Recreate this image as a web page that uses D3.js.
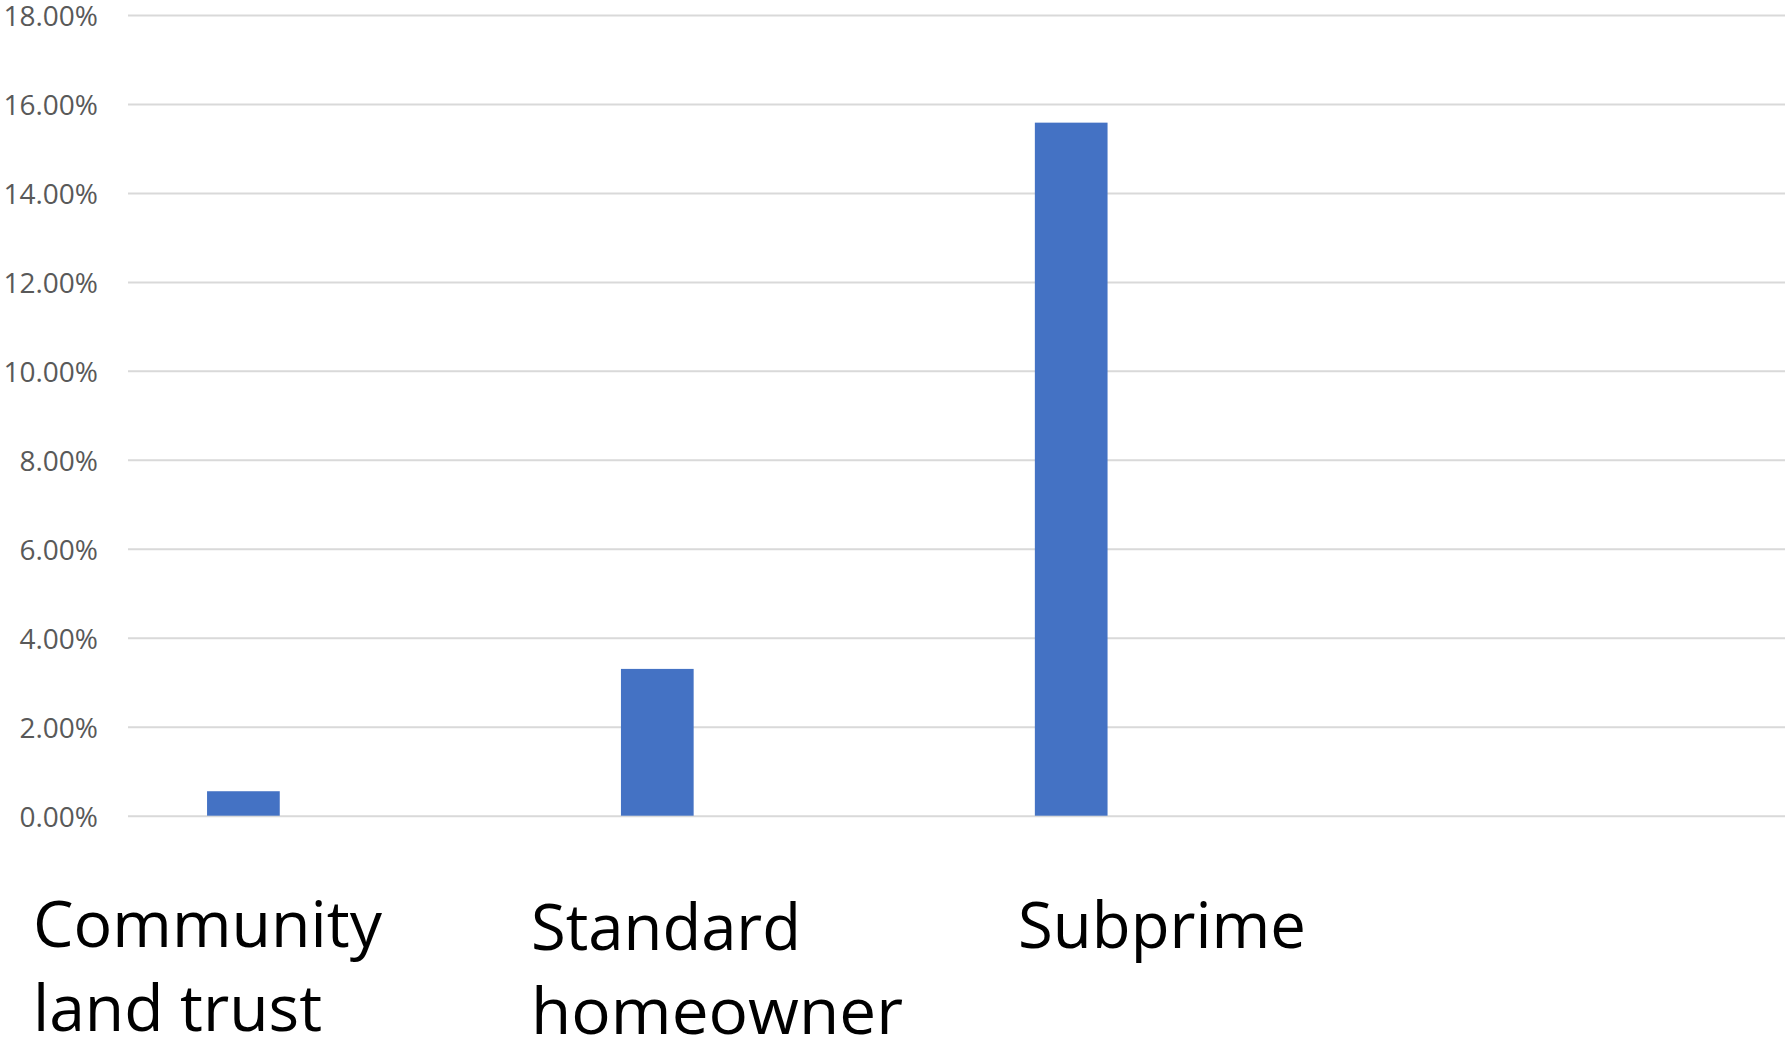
<!DOCTYPE html>
<html>
<head>
<meta charset="utf-8">
<script src="https://cdn.jsdelivr.net/npm/d3@7/dist/d3.min.js"></script>
<style>
  html, body { margin: 0; padding: 0; background: #ffffff; }
  svg { display: block; }
</style>
</head>
<body>
<div id="chart"></div>
<script>
// Share of homeowners in foreclosure, by ownership type
const categories = ["Community land trust", "Standard homeowner", "Subprime"];
const labelLines = [["Community", "land trust"], ["Standard", "homeowner"], ["Subprime"]];
const rates = [0.0055, 0.0330, 0.1558];
const tickValues = [0, 0.02, 0.04, 0.06, 0.08, 0.10, 0.12, 0.14, 0.16, 0.18];

const W = 1785, H = 1045;
const plot = { left: 128, right: 1785, top: 15, bottom: 815.7 };

const svg = d3.select("#chart").append("svg")
  .attr("width", W).attr("height", H);

const y = d3.scaleLinear().domain([0, 0.18]).range([plot.bottom, plot.top]);
const x = d3.scalePoint().domain(categories).range([243.4, 1071.2]);
const barWidth = 72.7;

// horizontal gridlines with percentage labels
const yAxis = d3.axisLeft(y)
  .tickValues(tickValues)
  .tickFormat(d3.format(".2%"))
  .tickSize(-(plot.right - plot.left))
  .tickPadding(30);

const gy = svg.append("g")
  .attr("transform", `translate(${plot.left},0)`)
  .call(yAxis);
gy.select(".domain").remove();
gy.selectAll(".tick line")
  .attr("stroke", "#d9d9d9")
  .attr("stroke-width", 2);
gy.selectAll(".tick text")
  .attr("fill", "#595959")
  .attr("font-family", "'Open Sans', 'Noto Sans', sans-serif")
  .attr("font-size", 28)
  .attr("dy", "0.38em");

// bars
svg.append("g").selectAll("rect")
  .data(categories)
  .join("rect")
  .attr("x", (d) => x(d) - barWidth / 2)
  .attr("width", barWidth)
  .attr("y", (d, i) => y(rates[i]))
  .attr("height", (d, i) => y(0) - y(rates[i]))
  .attr("fill", "#4472c4");

// category labels, left-aligned text boxes below the plot
const labelLeft = [33, 531, 1018];
const labelBase = [947, 950, 948];
const lineWidths = [[349, 289], [270, 372], [288]];
const lineStep = 84;

const labels = svg.append("g")
  .attr("font-family", "'Open Sans', 'Noto Sans', sans-serif")
  .attr("font-size", 64)
  .attr("fill", "#000000");

labelLines.forEach((lines, i) => {
  const t = labels.append("text")
    .attr("x", labelLeft[i])
    .attr("y", labelBase[i]);
  lines.forEach((line, j) => {
    t.append("tspan")
      .attr("x", labelLeft[i])
      .attr("y", labelBase[i] + j * lineStep)
      .attr("textLength", lineWidths[i][j])
      .attr("lengthAdjust", "spacingAndGlyphs")
      .text(line);
  });
});
</script>
</body>
</html>
